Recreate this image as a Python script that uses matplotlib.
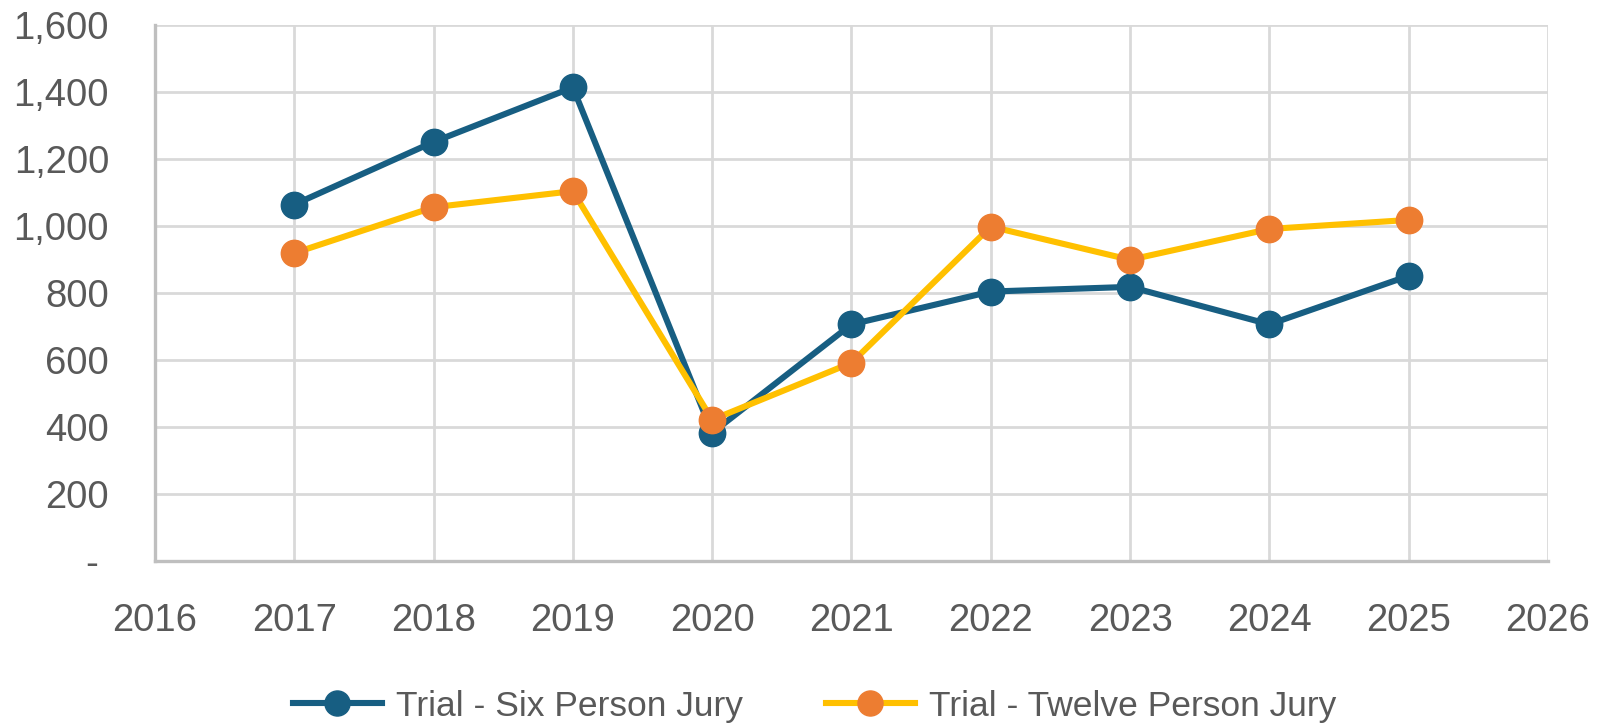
import matplotlib
matplotlib.use("Agg")
import matplotlib.pyplot as plt
from matplotlib.ticker import FuncFormatter

# values
years = [2017, 2018, 2019, 2020, 2021, 2022, 2023, 2024, 2025]
six_person = [1065, 1252, 1415, 383, 707, 805, 819, 707, 852]
twelve_person = [920, 1057, 1105, 422, 592, 999, 900, 992, 1019]
labels = ["Trial - Six Person Jury", "Trial - Twelve Person Jury"]

blue = "#175E82"
gold = "#FFC000"
orange = "#ED7D31"
grey_txt = "#595959"

plt.rcParams['font.family'] = ['Liberation Sans', 'DejaVu Sans']

fig = plt.figure(figsize=(15.99, 7.26), dpi=100)
ax = fig.add_axes([0.0969, 0.2273, 0.8712, 0.7376])

ax.plot(years, six_person, color=blue, lw=4.4, marker='o', ms=19,
        mfc=blue, mec=blue, label=labels[0], zorder=3)
ax.plot(years, twelve_person, color=gold, lw=4.4, marker='o', ms=19,
        mfc=orange, mec=orange, label=labels[1], zorder=4)

ax.set_xlim(2016, 2026)
ax.set_ylim(0, 1600)
ax.set_xticks(range(2016, 2027))
ax.set_yticks(range(0, 1601, 200))
ax.yaxis.set_major_formatter(FuncFormatter(lambda v, p: "- " if v == 0 else f"{int(v):,}"))

ax.grid(True, color="#D9D9D9", lw=2.0, zorder=0)
ax.set_axisbelow(True)
for s in ["top", "right"]:
    ax.spines[s].set_visible(False)
for s in ["left", "bottom"]:
    ax.spines[s].set_color("#BFBFBF")
    ax.spines[s].set_linewidth(2.4)

ax.tick_params(axis='both', length=0, labelsize=27.5, labelcolor=grey_txt)
ax.tick_params(axis='y', pad=33)
ax.tick_params(axis='x', pad=30)

fig.legend(loc='center', bbox_to_anchor=(0.5095, 0.0275), ncol=2, frameon=False,
           prop={'size': 25.5}, labelcolor=grey_txt, handlelength=2.5,
           handletextpad=0.4, columnspacing=2.35, markerscale=0.95)

fig.savefig("out.png", dpi=100)
